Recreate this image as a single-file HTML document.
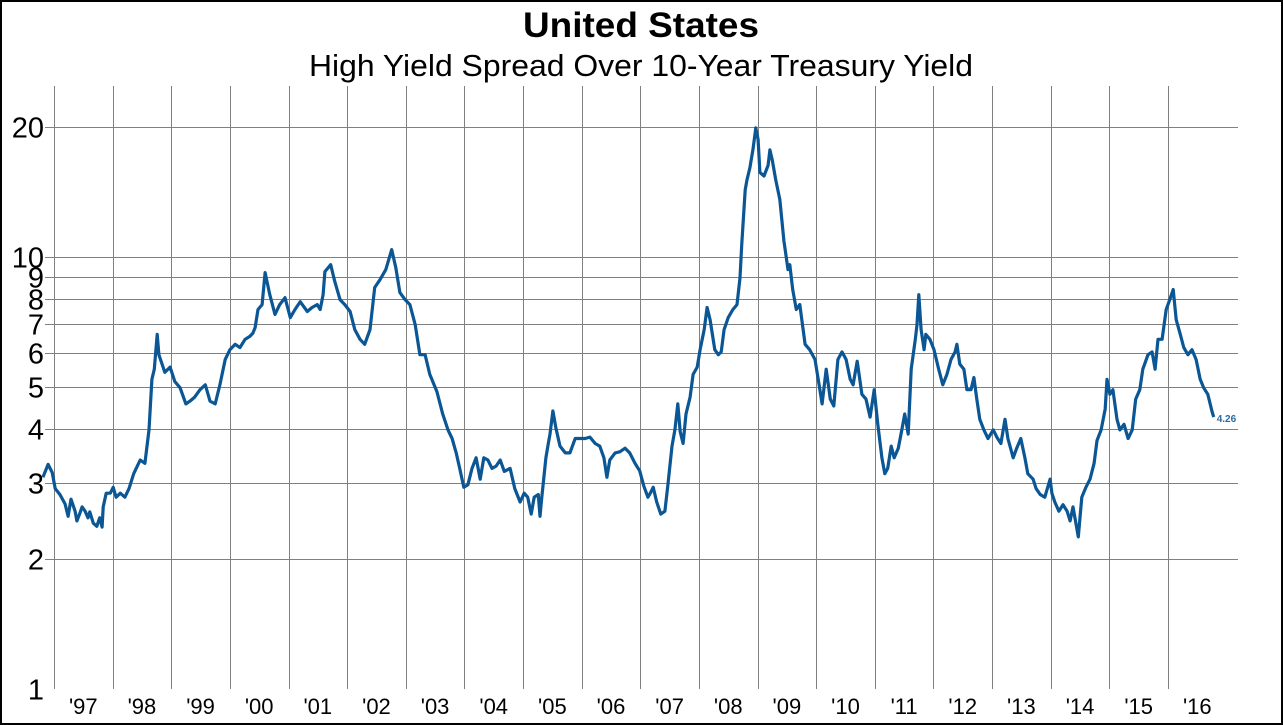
<!DOCTYPE html>
<html><head><meta charset="utf-8"><style>
html,body{margin:0;padding:0;background:#fff}
svg{display:block}
text{font-family:"Liberation Sans",sans-serif}
</style></head><body>
<svg id="chart" width="1283" height="725" viewBox="0 0 1283 725">
<rect x="1" y="1" width="1281" height="723" fill="#fff" stroke="#000" stroke-width="2"/>
<text x="641" y="37" text-anchor="middle" font-size="35" font-weight="bold" textLength="236" lengthAdjust="spacingAndGlyphs">United States</text>
<text x="641" y="76" text-anchor="middle" font-size="31" textLength="664" lengthAdjust="spacingAndGlyphs">High Yield Spread Over 10-Year Treasury Yield</text>
<g id="grid"></g>
<g id="yticks"></g>
<g id="xticks"></g>
<g id="series"></g>
</svg>
<script>
const yTicks=[1,2,3,4,5,6,7,8,9,10,20];
const yTickLabels=["1","2","3","4","5","6","7","8","9","10","20"];
const yearStarts=[1997,1998,1999,2000,2001,2002,2003,2004,2005,2006,2007,2008,2009,2010,2011,2012,2013,2014,2015,2016];
const yearLabels=["'97","'98","'99","'00","'01","'02","'03","'04","'05","'06","'07","'08","'09","'10","'11","'12","'13","'14","'15","'16"];
const dates=[1996.81,1996.90,1996.97,1997.02,1997.10,1997.19,1997.24,1997.29,1997.36,1997.39,1997.44,1997.48,1997.53,1997.58,1997.61,1997.67,1997.73,1997.78,1997.82,1997.84,1997.89,1997.96,1998.01,1998.06,1998.13,1998.21,1998.28,1998.36,1998.47,1998.55,1998.62,1998.67,1998.71,1998.76,1998.79,1998.89,1998.98,1999.06,1999.15,1999.25,1999.32,1999.40,1999.49,1999.58,1999.66,1999.75,1999.83,1999.92,2000.00,2000.09,2000.17,2000.26,2000.34,2000.39,2000.43,2000.48,2000.55,2000.60,2000.68,2000.77,2000.85,2000.94,2001.03,2001.11,2001.20,2001.32,2001.40,2001.49,2001.54,2001.59,2001.62,2001.72,2001.79,2001.88,2001.96,2002.05,2002.13,2002.22,2002.30,2002.39,2002.47,2002.56,2002.66,2002.76,2002.83,2002.90,2002.99,2003.07,2003.16,2003.24,2003.33,2003.41,2003.53,2003.63,2003.72,2003.79,2003.86,2003.92,2003.99,2004.06,2004.13,2004.20,2004.27,2004.33,2004.40,2004.47,2004.54,2004.61,2004.68,2004.78,2004.86,2004.95,2005.02,2005.08,2005.14,2005.19,2005.26,2005.29,2005.32,2005.39,2005.43,2005.46,2005.51,2005.56,2005.63,2005.72,2005.80,2005.89,2005.97,2006.06,2006.14,2006.23,2006.31,2006.38,2006.43,2006.48,2006.57,2006.65,2006.74,2006.82,2006.91,2006.99,2007.06,2007.13,2007.17,2007.22,2007.28,2007.35,2007.42,2007.47,2007.54,2007.59,2007.64,2007.68,2007.73,2007.78,2007.85,2007.90,2007.97,2008.02,2008.09,2008.14,2008.19,2008.27,2008.33,2008.38,2008.43,2008.50,2008.58,2008.65,2008.70,2008.73,2008.79,2008.82,2008.87,2008.92,2008.97,2009.01,2009.04,2009.11,2009.18,2009.21,2009.25,2009.31,2009.38,2009.45,2009.52,2009.55,2009.60,2009.66,2009.72,2009.81,2009.89,2009.98,2010.05,2010.10,2010.17,2010.24,2010.30,2010.37,2010.44,2010.51,2010.58,2010.63,2010.70,2010.78,2010.85,2010.92,2010.99,2011.05,2011.12,2011.17,2011.22,2011.28,2011.33,2011.40,2011.46,2011.51,2011.57,2011.62,2011.69,2011.72,2011.75,2011.79,2011.84,2011.87,2011.94,2012.01,2012.09,2012.16,2012.23,2012.30,2012.37,2012.40,2012.45,2012.52,2012.57,2012.64,2012.69,2012.74,2012.79,2012.86,2012.93,2013.02,2013.08,2013.15,2013.22,2013.27,2013.36,2013.42,2013.49,2013.56,2013.61,2013.70,2013.75,2013.82,2013.90,2013.99,2014.02,2014.07,2014.14,2014.21,2014.28,2014.33,2014.38,2014.47,2014.53,2014.60,2014.67,2014.74,2014.79,2014.86,2014.93,2014.96,2015.01,2015.06,2015.13,2015.18,2015.25,2015.32,2015.39,2015.45,2015.52,2015.57,2015.66,2015.73,2015.78,2015.83,2015.90,2015.97,2016.03,2016.09,2016.14,2016.21,2016.27,2016.34,2016.41,2016.48,2016.55,2016.61,2016.68,2016.75,2016.78];
const spreads=[3.09,3.31,3.17,2.91,2.82,2.68,2.51,2.75,2.58,2.45,2.55,2.64,2.58,2.49,2.57,2.42,2.38,2.49,2.37,2.64,2.84,2.84,2.93,2.78,2.84,2.78,2.91,3.15,3.39,3.33,3.98,5.21,5.5,6.62,5.94,5.41,5.56,5.15,4.98,4.57,4.64,4.74,4.93,5.06,4.64,4.57,5.06,5.79,6.10,6.28,6.17,6.45,6.55,6.66,6.86,7.56,7.76,9.2,8.18,7.36,7.76,8.05,7.24,7.56,7.88,7.48,7.64,7.76,7.56,8.18,9.25,9.6,8.77,7.96,7.76,7.48,6.79,6.45,6.28,6.79,8.5,8.86,9.35,10.4,9.45,8.27,7.96,7.76,6.97,5.94,5.94,5.35,4.88,4.33,3.98,3.80,3.52,3.24,2.93,2.97,3.24,3.43,3.06,3.43,3.39,3.24,3.28,3.39,3.19,3.24,2.91,2.71,2.84,2.78,2.54,2.78,2.82,2.51,2.78,3.43,3.70,3.89,4.40,4.02,3.65,3.52,3.52,3.80,3.80,3.80,3.83,3.70,3.65,3.43,3.09,3.39,3.52,3.54,3.61,3.52,3.33,3.20,2.95,2.78,2.84,2.93,2.71,2.54,2.58,2.97,3.65,3.98,4.57,3.94,3.70,4.33,4.74,5.35,5.56,6.10,6.79,7.64,7.16,6.10,5.94,6.03,6.79,7.24,7.56,7.76,8.95,10.65,14.3,15.1,16.1,17.7,19.9,18.7,15.7,15.4,16.3,17.7,16.8,15.1,13.6,10.9,9.35,9.6,8.41,7.56,7.76,6.28,6.10,5.79,5.06,4.57,5.5,4.69,4.52,5.79,6.03,5.79,5.21,5.06,5.74,4.81,4.69,4.26,4.93,4.10,3.43,3.15,3.24,3.65,3.43,3.61,3.98,4.33,3.89,5.5,6.45,6.97,8.18,6.79,6.10,6.62,6.45,6.10,5.5,5.06,5.35,5.79,6.03,6.28,5.65,5.5,4.93,4.93,5.26,4.69,4.21,3.98,3.80,3.98,3.83,3.70,4.21,3.80,3.43,3.61,3.80,3.43,3.15,3.06,2.91,2.82,2.78,3.06,2.84,2.71,2.58,2.67,2.58,2.45,2.64,2.25,2.78,2.93,3.06,3.33,3.76,3.98,4.45,5.21,4.81,4.93,4.21,3.98,4.10,3.80,3.98,4.69,4.93,5.5,5.94,6.03,5.5,6.45,6.45,7.56,7.96,8.41,7.16,6.62,6.17,5.94,6.10,5.79,5.21,4.98,4.81,4.40,4.26];
const lastLabel="4.26";

const NS="http://www.w3.org/2000/svg";
const plotL=45,plotR=1238,plotT=86,plotB=689;
const yPx=v=>689-432*Math.log10(v);
const xPx=t=>54+(t-1997)*58.63;
function mk(tag,attrs,parent){const e=document.createElementNS(NS,tag);for(const k in attrs)e.setAttribute(k,attrs[k]);parent.appendChild(e);return e;}
const grid=document.getElementById('grid'),yt=document.getElementById('yticks'),xt=document.getElementById('xticks'),ser=document.getElementById('series');
yTicks.forEach((v,i)=>{
  const y=Math.round(yPx(v))+0.5;
  if(v>1){const l=mk('line',{x1:plotL,x2:plotR,y1:y,y2:y,stroke:'#808080','stroke-width':1},grid);
  
  }
  const t=mk('text',{x:44,y:y+10,'text-anchor':'end','font-size':29},yt);
  t.textContent=yTickLabels[i];
  
  
});
yearStarts.forEach((yr,i)=>{
  const x=Math.round(xPx(yr))+0.5;
  const l=mk('line',{x1:x,x2:x,y1:plotT,y2:plotB,stroke:'#808080','stroke-width':1},grid);
  
  
  const t=mk('text',{x:xPx(yr+0.5),y:714,'text-anchor':'middle','font-size':22},xt);
  t.textContent=yearLabels[i];
  
  
});
let d='';
dates.forEach((t,i)=>{d+=(i?'L':'M')+xPx(t).toFixed(1)+' '+yPx(spreads[i]).toFixed(1);});
const p=mk('path',{d:d,fill:'none',stroke:'#0b5694','stroke-width':3.2,'stroke-linejoin':'round'},ser);


const n=dates.length-1;
const lab=mk('text',{x:xPx(dates[n])+3,y:yPx(spreads[n])+5,'font-size':10,'font-weight':'bold',fill:'#2a6aa3'},ser);
lab.textContent=lastLabel;


</script>
</body></html>
